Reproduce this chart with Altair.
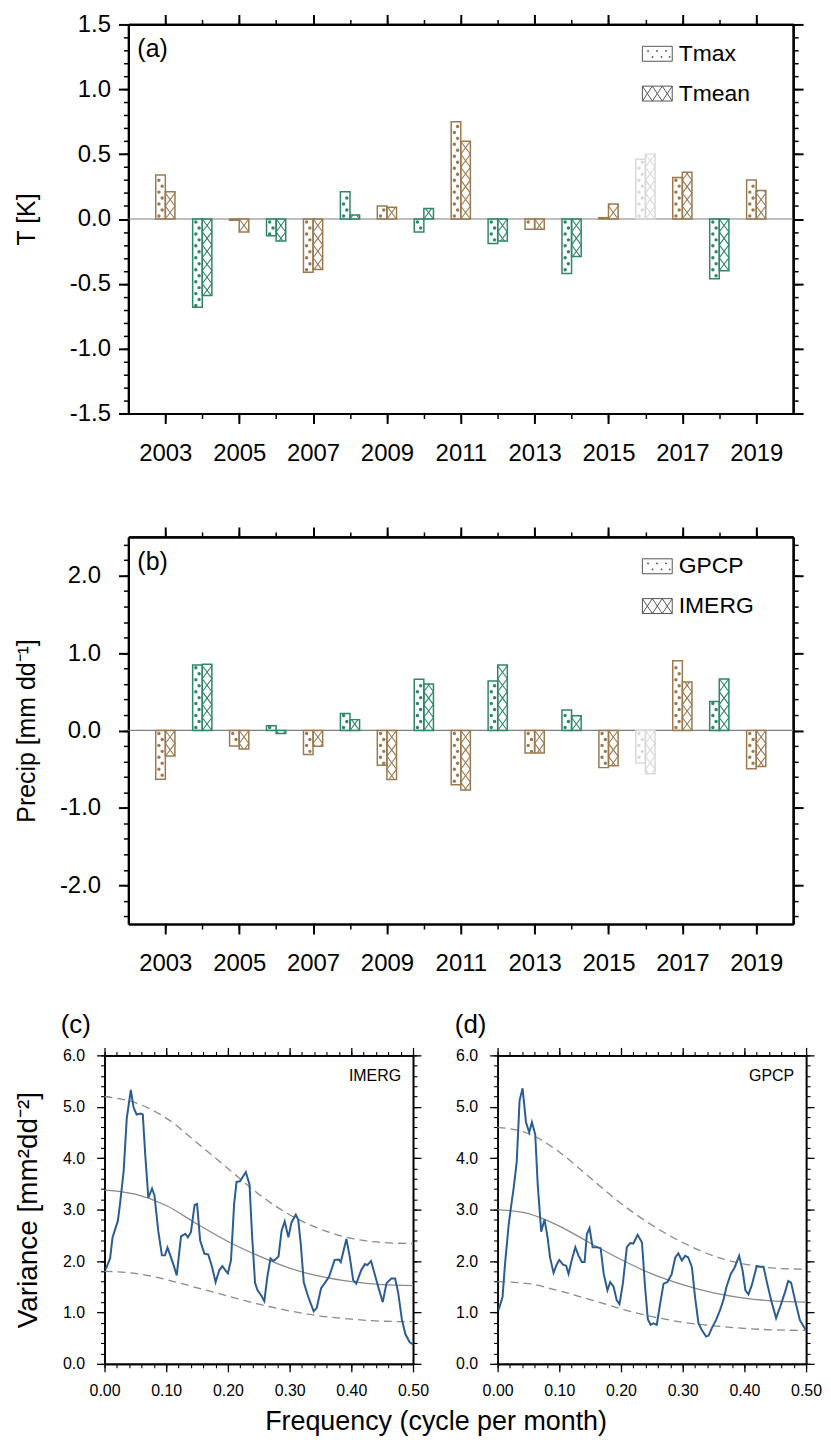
import altair as alt
import pandas as pd
import numpy as np

FONT = "Liberation Sans"

# ---------------- data ----------------
years = list(range(2003, 2020))
year_group = ["dry", "wet", "dry", "wet", "dry", "wet", "dry", "wet", "dry",
              "wet", "dry", "wet", "dry", "neutral", "dry", "wet", "dry"]
tmax = [0.34, -0.68, -0.01, -0.13, -0.41, 0.21, 0.10, -0.10, 0.75, -0.19,
        -0.08, -0.42, 0.01, 0.46, 0.32, -0.46, 0.30]
tmean = [0.21, -0.59, -0.10, -0.17, -0.39, 0.03, 0.09, 0.08, 0.60, -0.17,
         -0.08, -0.29, 0.115, 0.50, 0.36, -0.40, 0.22]
gpcp = [-0.63, 0.845, -0.20, 0.06, -0.31, 0.22, -0.45, 0.66, -0.70, 0.64,
        -0.29, 0.265, -0.48, -0.42, 0.90, 0.375, -0.495]
imerg = [-0.33, 0.855, -0.24, -0.04, -0.205, 0.14, -0.635, 0.60, -0.77, 0.845,
         -0.29, 0.19, -0.455, -0.56, 0.625, 0.665, -0.465]

t_series = ["Tmax", "Tmean"]
p_series = ["GPCP", "IMERG"]
panel_letters = ["(a)", "(b)", "(c)", "(d)"]
spec_names = ["IMERG", "GPCP"]

freq_c = [0.002, 0.009, 0.013, 0.0216, 0.025, 0.031, 0.036, 0.0426, 0.047, 0.052,
          0.058, 0.062, 0.066, 0.071, 0.077, 0.081, 0.087, 0.093, 0.098, 0.102,
          0.106, 0.112, 0.117, 0.124, 0.131, 0.135, 0.140, 0.146, 0.150, 0.155,
          0.162, 0.168, 0.174, 0.180, 0.186, 0.191, 0.196, 0.200, 0.205, 0.210,
          0.214, 0.2195, 0.229, 0.235, 0.239, 0.244, 0.248, 0.2535, 0.259, 0.264,
          0.269, 0.274, 0.282, 0.287, 0.292, 0.298, 0.303, 0.310, 0.314, 0.318,
          0.323, 0.330, 0.339, 0.344, 0.351, 0.357, 0.364, 0.373, 0.380, 0.383,
          0.392, 0.3975, 0.403, 0.408, 0.416, 0.422, 0.426, 0.432, 0.439, 0.445,
          0.451, 0.457, 0.465, 0.471, 0.476, 0.482, 0.4876, 0.4946, 0.500]
imerg_spec = [1.84, 2.05, 2.46, 2.78, 3.10, 3.75, 4.77, 5.33, 4.99, 4.85,
              4.87, 4.85, 4.07, 3.23, 3.41, 3.27, 2.59, 2.11, 2.11, 2.26,
              2.13, 1.92, 1.72, 2.48, 2.53, 2.46, 2.56, 3.09, 3.11, 2.40,
              2.14, 2.13, 1.90, 1.59, 1.82, 1.90, 1.82, 1.76, 2.02, 3.10,
              3.54, 3.55, 3.73, 3.49, 2.53, 1.57, 1.43, 1.34, 1.22, 1.70,
              2.05, 2.00, 2.09, 2.59, 2.77, 2.46, 2.75, 2.90, 2.80, 2.34,
              1.58, 1.31, 1.02, 1.09, 1.47, 1.57, 1.70, 2.02, 2.03, 1.98,
              2.43, 2.08, 1.63, 1.56, 1.82, 1.94, 1.92, 2.00, 1.70, 1.44,
              1.20, 1.57, 1.66, 1.66, 1.38, 0.86, 0.58, 0.42, 0.38]

freq_d = [0.0016, 0.008, 0.012, 0.018, 0.0216, 0.026, 0.031, 0.0356, 0.0405, 0.046,
          0.0513, 0.0556, 0.061, 0.065, 0.0707, 0.076, 0.081, 0.085, 0.0907, 0.096,
          0.100, 0.106, 0.111, 0.115, 0.120, 0.126, 0.131, 0.1366, 0.141, 0.1447,
          0.149, 0.154, 0.161, 0.167, 0.172, 0.178, 0.1825, 0.188, 0.193, 0.1976,
          0.203, 0.2095, 0.215, 0.220, 0.227, 0.234, 0.239, 0.2435, 0.248, 0.2527,
          0.258, 0.2635, 0.269, 0.275, 0.282, 0.288, 0.293, 0.2986, 0.304, 0.309,
          0.315, 0.320, 0.3256, 0.331, 0.338, 0.342, 0.347, 0.354, 0.3607, 0.366,
          0.371, 0.378, 0.384, 0.3915, 0.397, 0.4017, 0.4066, 0.412, 0.420, 0.4255,
          0.431, 0.437, 0.444, 0.4514, 0.458, 0.466, 0.471, 0.4757, 0.482, 0.490,
          0.4995]
gpcp_spec = [1.05, 1.30, 1.94, 2.71, 3.04, 3.42, 3.93, 5.12, 5.36, 4.70,
             4.50, 4.70, 4.46, 3.49, 2.57, 2.81, 2.46, 2.07, 1.77, 1.94,
             2.02, 1.93, 1.91, 1.75, 2.01, 2.27, 2.11, 1.98, 1.98, 2.52,
             2.64, 2.27, 2.27, 2.25, 1.75, 1.43, 1.59, 1.50, 1.24, 1.16,
             1.56, 2.27, 2.35, 2.34, 2.51, 2.36, 1.50, 0.87, 0.76, 0.79,
             0.76, 1.17, 1.56, 1.59, 1.74, 2.07, 2.15, 2.01, 2.10, 2.07,
             1.88, 1.30, 0.79, 0.66, 0.53, 0.55, 0.69, 0.85, 1.05, 1.24,
             1.50, 1.75, 1.87, 2.10, 1.82, 1.43, 1.35, 1.53, 1.90, 1.89,
             1.89, 1.56, 1.21, 0.89, 1.11, 1.40, 1.61, 1.58, 1.24, 0.85,
             0.66]

rn_freq = [0.0, 0.05, 0.10, 0.15, 0.20, 0.25, 0.30, 0.35, 0.40, 0.45, 0.50]
imerg_rn = [3.38, 3.30, 3.08, 2.72, 2.38, 2.10, 1.86, 1.70, 1.60, 1.54, 1.52]
imerg_hi = [5.20, 5.08, 4.78, 4.30, 3.80, 3.30, 2.90, 2.62, 2.44, 2.36, 2.34]
imerg_lo = [1.80, 1.76, 1.64, 1.48, 1.32, 1.16, 1.03, 0.93, 0.87, 0.83, 0.82]
gpcp_rn = [3.00, 2.92, 2.68, 2.35, 2.03, 1.75, 1.54, 1.38, 1.28, 1.22, 1.20]
gpcp_hi = [4.60, 4.48, 4.12, 3.62, 3.12, 2.70, 2.36, 2.10, 1.94, 1.86, 1.84]
gpcp_lo = [1.60, 1.56, 1.42, 1.25, 1.07, 0.92, 0.81, 0.74, 0.69, 0.66, 0.65]

# tick values
year_major = list(range(2003, 2020, 2))
year_minor = list(range(2003, 2020))
t_major = [-1.5, -1.0, -0.5, 0.0, 0.5, 1.0, 1.5]
t_minor = [round(-1.5 + 0.1 * i, 1) for i in range(31)]
p_major = [-2.0, -1.0, 0.0, 1.0, 2.0]
p_minor = [round(-2.4 + 0.2 * i, 1) for i in range(25)]
f_major = [0.0, 0.1, 0.2, 0.3, 0.4, 0.5]
f_minor = [round(0.02 * i, 2) for i in range(26)]
v_major = [0.0, 1.0, 2.0, 3.0, 4.0, 5.0, 6.0]
v_minor = [round(0.2 * i, 1) for i in range(31)]

group_domain = ["dry", "wet", "neutral"]
group_colors = ["#9b7a52", "#2e8769", "#d9d9d9"]

# ---------------- styles ----------------
BW = 0.26       # bar width in years
HATCH = 13.0    # px per diagonal of cross hatch
DOTSTEP = 6.0   # px between dot rows
MINUS = "replace(format(datum.value, '.1f'), '\u2212', '-')"

CROSS_PATH = ("M-1,-0.5H1V0.5H-1Z "
              "M-1,-0.5L-0.333,0.5L0.333,-0.5L1,0.5 "
              "M-1,0.5L-0.333,-0.5L0.333,0.5L1,-0.5")
_dots = [(-0.65, -0.22), (-0.05, -0.22), (0.55, -0.22),
         (-0.35, 0.18), (0.25, 0.18), (0.8, 0.18)]
DOT_PATH = "M-1,-0.5H1V0.5H-1Z " + " ".join(
    f"M{x:.2f},{y:.2f}h0.06v0.06h-0.06Z" for x, y in _dots)


def ax(orient, values, size, width, labels=False, fmt=None, lexpr=None,
       title=None, lp=4, fs=24, tfs=25, tp=0, dw=2.2):
    kw = dict(orient=orient, values=values, tickSize=size, tickWidth=width,
              tickColor="black", domainColor="black", domainWidth=dw,
              grid=False, labels=labels, ticks=True, title=title)
    if labels:
        kw.update(labelFontSize=fs, labelFont=FONT, labelColor="black",
                  labelPadding=lp, labelFlush=False, labelOverlap=False)
        if fmt:
            kw["format"] = fmt
        if lexpr:
            kw["labelExpr"] = lexpr
    if title:
        kw.update(titleFontSize=tfs, titleFont=FONT, titleFontWeight="normal",
                  titleColor="black", titlePadding=tp)
    return alt.Axis(**kw)


def bar_panel(v1, v2, names, dom, W, H, major_y, minor_y, ytitle, tp, lp, letter):
    ppu = H / (dom[1] - dom[0])
    rows, dots, zig = [], [], []
    for yr, a, b, g in zip(years, v1, v2, year_group):
        rows.append(dict(series=names[0], value=a, base=0.0, group=g, x0=yr - BW, x1=yr))
        rows.append(dict(series=names[1], value=b, base=0.0, group=g, x0=yr, x1=yr + BW))
        s = 1 if a >= 0 else -1
        L = abs(a) * ppu
        d, k = 3.0, 0
        while d < L - 1.5:
            dots.append(dict(x=yr - BW + BW * (0.33 if k % 2 == 0 else 0.67),
                             y=s * d / ppu, group=g))
            d += DOTSTEP
            k += 1
        s = 1 if b >= 0 else -1
        L = abs(b) * ppu
        ds = list(np.arange(0, L, HATCH)) + [L]
        for z in (0, 1):
            for i, d in enumerate(ds):
                t = (d / HATCH) % 2
                fr = t if t <= 1 else 2 - t
                if z:
                    fr = 1 - fr
                zig.append(dict(key=f"{yr}-{z}", order=i, x=yr + BW * fr,
                                y=s * d / ppu, group=g))
    df_bars = pd.DataFrame(rows)
    df_dots = pd.DataFrame(dots)
    df_zig = pd.DataFrame(zig)
    df_leg = pd.DataFrame({"series": names, "x": [2010, 2010], "y": [0.0, 0.0]})

    xs = alt.Scale(domain=[2002, 2020], nice=False, zero=False)
    ys = alt.Scale(domain=dom, nice=False, zero=False)
    col = alt.Color("group:N", scale=alt.Scale(domain=group_domain, range=group_colors), legend=None)
    stk = alt.Stroke("group:N", scale=alt.Scale(domain=group_domain, range=group_colors), legend=None)

    zero = alt.Chart(pd.DataFrame({"y": [0.0]})).mark_rule(
        color="#7f7f7f", strokeWidth=1.2).encode(y=alt.Y("y:Q", scale=ys, axis=None))

    bars = alt.Chart(df_bars).mark_rect(fillOpacity=0, fill="white", strokeWidth=1.5).encode(
        x=alt.X("x0:Q", scale=xs,
                axis=ax("bottom", year_major, 10, 2, labels=True, fmt="d", lp=18)),
        x2="x1:Q",
        y=alt.Y("value:Q", scale=ys,
                axis=ax("left", major_y, 10, 2, labels=True, lexpr=MINUS, lp=lp,
                        title=ytitle, tp=tp)),
        y2="base:Q",
        stroke=stk,
    )
    zz = alt.Chart(df_zig).mark_line(strokeWidth=1.1).encode(
        x=alt.X("x:Q", scale=xs, axis=ax("bottom", year_minor, 5, 1.5)),
        y=alt.Y("y:Q", scale=ys, axis=ax("left", minor_y, 5, 1.5)),
        color=col, detail="key:N", order="order:Q",
    )
    dd = alt.Chart(df_dots).mark_circle(size=12, opacity=1).encode(
        x=alt.X("x:Q", scale=xs, axis=ax("top", year_major, 10, 2)),
        y=alt.Y("y:Q", scale=ys, axis=ax("right", major_y, 10, 2)),
        color=col,
    )
    leg = alt.Chart(df_leg).mark_point(filled=False, color="#555555", opacity=0).encode(
        x=alt.X("x:Q", scale=xs, axis=ax("top", year_minor, 5, 1.5)),
        y=alt.Y("y:Q", scale=ys, axis=ax("right", minor_y, 5, 1.5)),
        shape=alt.Shape("series:N",
                        scale=alt.Scale(domain=names, range=[DOT_PATH, CROSS_PATH]),
                        legend=alt.Legend(orient="none", legendX=W - 152, legendY=14,
                                          title=None, symbolSize=900, symbolOpacity=1,
                                          symbolStrokeWidth=1, symbolStrokeColor="#555555",
                                          symbolFillColor="white",
                                          labelFontSize=23, labelFont=FONT,
                                          labelColor="black", labelOffset=6,
                                          rowPadding=12, labelLimit=300)),
    )
    txt = alt.Chart(pd.DataFrame({"t": [letter]})).mark_text(
        align="left", baseline="middle", fontSize=25, font=FONT, color="black").encode(
        x=alt.value(9), y=alt.value(25), text="t:N")

    return alt.layer(zero, bars, zz, dd, leg, txt).resolve_axis(
        x="independent", y="independent").properties(width=W, height=H)


def spec_panel(freq, vals, rn, hi, lo, name, letter, W, H, ytitle, dx):
    xs = alt.Scale(domain=[0, 0.5], nice=False, zero=False)
    ys = alt.Scale(domain=[0, 6], nice=False, zero=False)
    df = pd.DataFrame({"f": freq, "v": vals})
    dfr = pd.DataFrame({"f": rn_freq, "rn": rn, "hi": hi, "lo": lo})
    line = alt.Chart(df).mark_line(color="#2c5d92", strokeWidth=2).encode(
        x=alt.X("f:Q", scale=xs,
                axis=ax("bottom", f_major, 8, 1.3, labels=True, fmt=".2f", lp=11,
                        fs=16, dw=1.6)),
        y=alt.Y("v:Q", scale=ys,
                axis=ax("left", v_major, 8, 1.3, labels=True, fmt=".1f", lp=12, fs=16,
                        title=ytitle, tfs=28, tp=20, dw=1.6)),
    )
    solid = alt.Chart(dfr).mark_line(color="#8a8a8a", strokeWidth=1.3, interpolate="monotone").encode(
        x=alt.X("f:Q", scale=xs, axis=ax("top", f_major, 8, 1.3, dw=1.6)),
        y=alt.Y("rn:Q", scale=ys, axis=ax("right", v_major, 8, 1.3, dw=1.6)),
    )
    upper = alt.Chart(dfr).mark_line(color="#8a8a8a", strokeWidth=1.3, strokeDash=[8, 5],
                                     interpolate="monotone").encode(
        x=alt.X("f:Q", scale=xs, axis=ax("bottom", f_minor, 4, 1.1, dw=1.6)),
        y=alt.Y("hi:Q", scale=ys, axis=ax("left", v_minor, 4, 1.1, dw=1.6)),
    )
    lower = alt.Chart(dfr).mark_line(color="#8a8a8a", strokeWidth=1.3, strokeDash=[8, 5],
                                     interpolate="monotone").encode(
        x=alt.X("f:Q", scale=xs, axis=ax("top", f_minor, 4, 1.1, dw=1.6)),
        y=alt.Y("lo:Q", scale=ys, axis=ax("right", v_minor, 4, 1.1, dw=1.6)),
    )
    txt = alt.Chart(pd.DataFrame({"t": [name]})).mark_text(
        align="right", baseline="middle", fontSize=16, font=FONT, color="black").encode(
        x=alt.value(W - 12), y=alt.value(21), text="t:N")
    return alt.layer(upper, lower, solid, line, txt).resolve_axis(
        x="independent", y="independent").properties(
        width=W, height=H,
        title=alt.TitleParams(letter, anchor="start", frame="group", dx=dx, fontSize=26,
                              font=FONT, fontWeight="normal", color="black", offset=9))


def spacer():
    return alt.Chart(pd.DataFrame({"s": [0]})).mark_point(opacity=0, size=1).properties(
        width=1, height=1)


pa = bar_panel(tmax, tmean, t_series, [-1.5, 1.5], 668, 391, t_major, t_minor,
               "T [K]", 30, 8, panel_letters[0])
pb = bar_panel(gpcp, imerg, p_series, [-2.5, 2.5], 668, 389, p_major, p_minor,
               "Precip [mm dd\u207b\u00b9]", 20, 18, panel_letters[1])
pc = spec_panel(freq_c, imerg_spec, imerg_rn, imerg_hi, imerg_lo, spec_names[0],
                panel_letters[2], 310, 310, "Variance [mm\u00b2dd\u207b\u00b2]", -44)
pd_ = spec_panel(freq_d, gpcp_spec, gpcp_rn, gpcp_hi, gpcp_lo, spec_names[1],
                 panel_letters[3], 310, 310, None, -43)

cd = alt.hconcat(pc, pd_, spacing=24).properties(
    title=alt.TitleParams("Frequency (cycle per month)", orient="bottom", anchor="middle",
                          fontSize=27, font=FONT, fontWeight="normal", color="black",
                          dx=18, offset=10))
ab = alt.vconcat(pa, pb, spacing=59).resolve_scale(shape="independent")

row1 = alt.hconcat(spacer(), ab, spacing=0).resolve_scale(shape="independent")
row2 = alt.hconcat(spacer(), cd, spacing=0).resolve_scale(shape="independent")

chart = alt.vconcat(row1, row2, spacing=34).resolve_scale(
    shape="independent").properties(
    padding={"left": 5, "top": 0, "right": 0, "bottom": 0}
).configure_view(stroke=None).configure(font=FONT)

chart.save("out.html", embed_options={"renderer": "svg", "actions": False})
